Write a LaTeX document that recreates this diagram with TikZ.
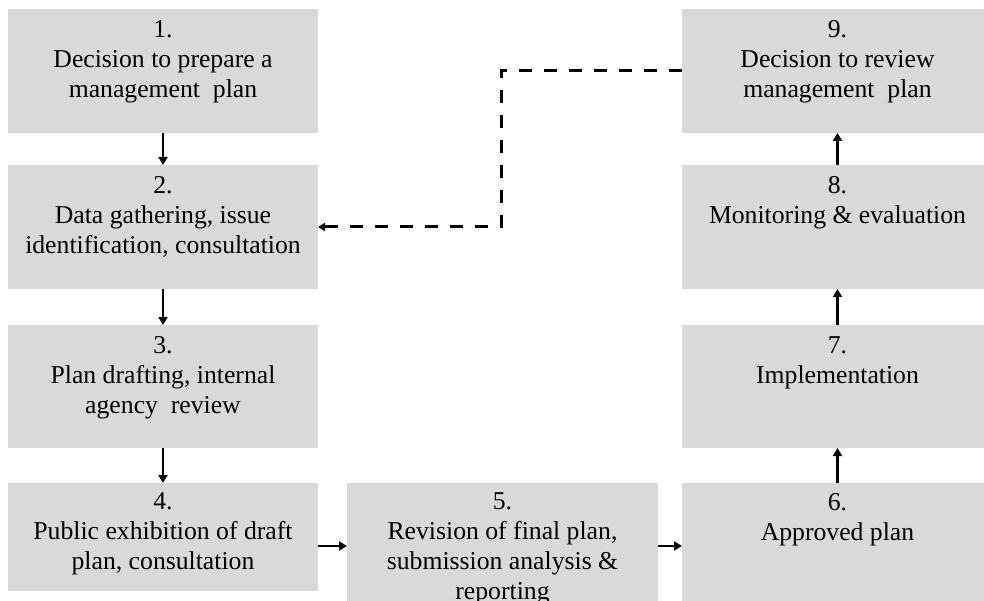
\documentclass[tikz,border=0pt]{standalone}
\usepackage{fontspec}
\setmainfont{Liberation Serif}
\usetikzlibrary{arrows.meta}
\definecolor{boxgray}{HTML}{D9D9D9}
\begin{document}
\begin{tikzpicture}[x=1pt,y=-1pt,
  stepbox/.style={fill=boxgray, draw=none, minimum width=311pt, inner sep=0pt, outer sep=0pt, anchor=north west},
  boxtext/.style={anchor=north, align=center, inner sep=0pt, font=\fontsize{25.7}{30}\selectfont},
  flow/.style={line width=2.6pt, -{Triangle[length=8pt,width=9pt]}},
  back/.style={line width=3pt, dash pattern=on 13pt off 12pt, -{Triangle[length=7pt,width=8pt]}}]
\useasboundingbox (0,0) rectangle (984,601);
\clip (0,0) rectangle (984,601);
% left column
\node[stepbox, minimum width=310pt, minimum height=124pt] (b1) at (8,9) {};
\node[stepbox, minimum width=310pt, minimum height=124pt] (b2) at (8,165) {};
\node[stepbox, minimum width=310pt, minimum height=123pt] (b3) at (8,325) {};
\node[stepbox, minimum width=310pt, minimum height=108pt] (b4) at (8,483) {};
% bottom middle
\node[stepbox, minimum height=126pt] (b5) at (347,483) {};
% right column
\node[stepbox, minimum height=126pt] (b6) at (682,483) {};
\node[stepbox, minimum height=123pt] (b7) at (682,325) {};
\node[stepbox, minimum height=124pt] (b8) at (682,165) {};
\node[stepbox, minimum height=124pt] (b9) at (682,9) {};
% texts
\node[boxtext, yshift=-7pt] (t1) at (b1.north) {\strut 1.\\Decision to prepare a\\management\ \ plan};
\node[boxtext, yshift=-7pt] (t2) at (b2.north) {\strut 2.\\Data gathering, issue\\identification, consultation};
\node[boxtext, yshift=-7pt] (t3) at (b3.north) {\strut 3.\\Plan drafting, internal\\agency\ \ review};
\node[boxtext, yshift=-5pt] (t4) at (b4.north) {\strut 4.\\Public exhibition of draft\\plan, consultation};
\node[boxtext, yshift=-5pt] (t5) at (b5.north) {\strut 5.\\Revision of final plan,\\submission analysis \&\\reporting};
\node[boxtext, yshift=-6pt] (t6) at (b6.north) {\strut 6.\\Approved plan};
\node[boxtext, yshift=-7pt] (t7) at (b7.north) {\strut 7.\\Implementation};
\node[boxtext, yshift=-7pt] (t8) at (b8.north) {\strut 8.\\Monitoring \& evaluation};
\node[boxtext, yshift=-7pt] (t9) at (b9.north) {\strut 9.\\Decision to review\\management\ \ plan};
% connectors
\draw[flow] (b1.south) -- (b2.north);
\draw[flow] (b2.south) -- (b3.north);
\draw[flow] (b3.south) -- (b4.north);
\draw[flow] (b4.east |- b5.west) -- (b5.west);
\draw[flow] (b5.east) -- (b6.west);
\draw[flow] (b6.north) -- (b7.south);
\draw[flow] (b7.north) -- (b8.south);
\draw[flow] (b8.north) -- (b9.south);
\draw[back] (b9.west) -- (b9.west -| 501,0) |- (b2.east);
\end{tikzpicture}
\end{document}
